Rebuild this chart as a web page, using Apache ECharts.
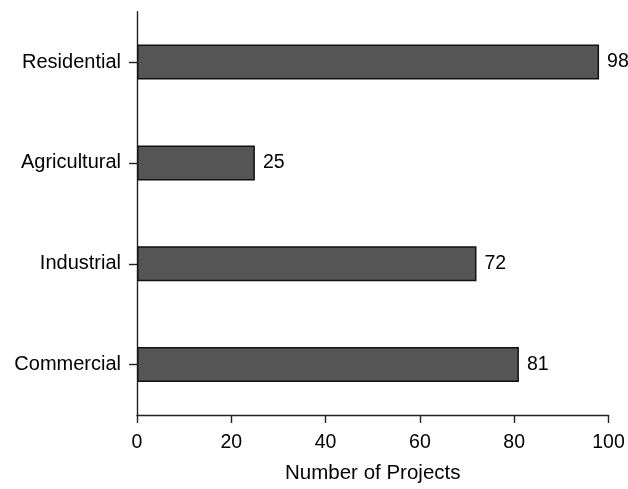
<!DOCTYPE html>
<html>
<head>
<meta charset="utf-8">
<script src="https://cdn.jsdelivr.net/npm/echarts@6/dist/echarts.min.js"></script>
<style>
html,body{margin:0;padding:0;background:#fff;}
#chart{width:628px;height:489px;}
</style>
</head>
<body>
<div id="chart"></div>
<script>
var categories = ['Commercial', 'Industrial', 'Agricultural', 'Residential'];
var projectCounts = [81, 72, 25, 98];
var xTicks = [0, 20, 40, 60, 80, 100];
var xAxisTitle = 'Number of Projects';

var FONT = '"Liberation Sans", Arial, sans-serif';
var chart = echarts.init(document.getElementById('chart'), null, {renderer: 'canvas'});
chart.setOption({
  animation: false,
  backgroundColor: '#ffffff',
  grid: {left: 137, right: 19.5, top: 11.7, bottom: 67, containLabel: false},
  xAxis: {
    type: 'value',
    min: xTicks[0],
    max: xTicks[xTicks.length - 1],
    interval: xTicks[1] - xTicks[0],
    name: xAxisTitle,
    nameLocation: 'middle',
    nameGap: 48,
    nameTextStyle: {fontFamily: FONT, fontSize: 20.5, color: '#000'},
    axisLine: {show: true, lineStyle: {color: '#222', width: 1.4}},
    axisTick: {show: true, length: 8, lineStyle: {color: '#222', width: 1.4}},
    axisLabel: {margin: 18, fontFamily: FONT, fontSize: 19.5, color: '#000'},
    splitLine: {show: false}
  },
  yAxis: {
    type: 'category',
    data: categories,
    axisLine: {show: true, lineStyle: {color: '#222', width: 1.4}},
    axisTick: {show: true, length: 8, alignWithLabel: true, lineStyle: {color: '#222', width: 1.4}},
    axisLabel: {margin: 16, fontFamily: FONT, fontSize: 20, color: '#000'},
    splitLine: {show: false}
  },
  series: [{
    type: 'bar',
    data: projectCounts,
    barWidth: 35,
    itemStyle: {color: '#555555', borderColor: '#111', borderWidth: 1.5},
    label: {show: true, position: 'right', distance: 8, fontFamily: FONT, fontSize: 19.5, color: '#000'}
  }]
});
</script>
</body>
</html>
